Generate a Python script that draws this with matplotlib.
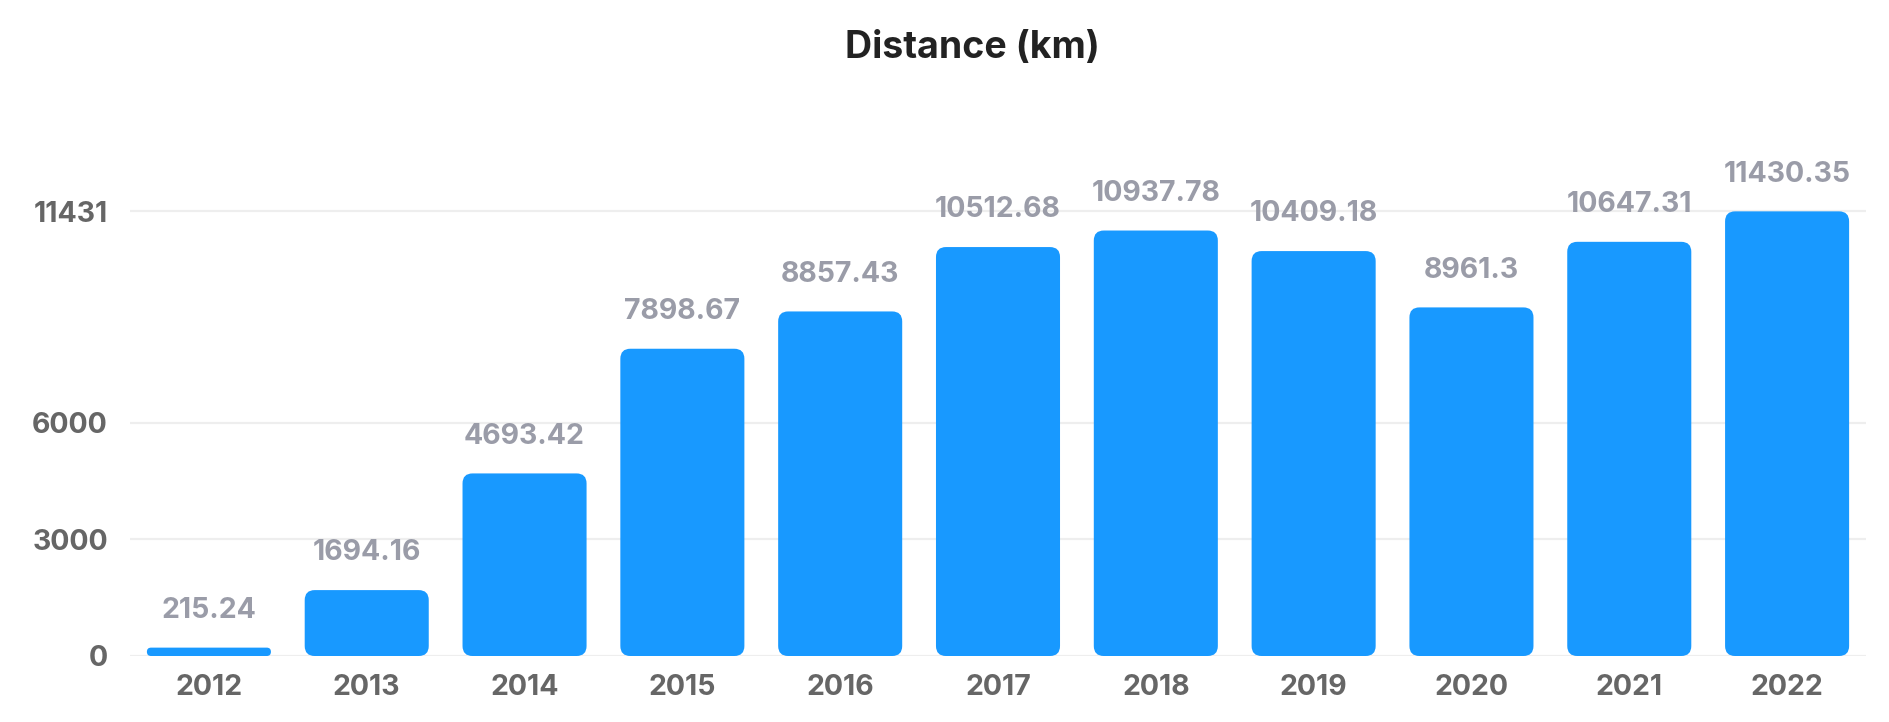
import matplotlib
matplotlib.use("Agg")
import matplotlib.pyplot as plt
from matplotlib.patches import FancyBboxPatch

years = ["2012", "2013", "2014", "2015", "2016", "2017", "2018", "2019", "2020", "2021", "2022"]
distance = [215.24, 1694.16, 4693.42, 7898.67, 8857.43, 10512.68, 10937.78, 10409.18, 8961.3, 10647.31, 11430.35]
value_labels = ["215.24", "1694.16", "4693.42", "7898.67", "8857.43", "10512.68", "10937.78", "10409.18", "8961.3", "10647.31", "11430.35"]
yticks = [0, 3000, 6000, 11431]
title = "Distance (km)"

FONT = ["Inter", "DejaVu Sans"]
plt.rcParams['font.family'] = FONT

W, H, DPI = 1890, 722, 100
fig = plt.figure(figsize=(W / DPI, H / DPI), dpi=DPI)
ax_left, ax_right = 130, 1866
ax_bottom_px = 656
ymax = 12800
px_per_unit = 116.7 / 3000
ax_h = ymax * px_per_unit
ax = fig.add_axes([ax_left / W, (H - ax_bottom_px) / H, (ax_right - ax_left) / W, ax_h / H])

x = list(range(len(years)))
bars = ax.bar(x, distance, width=0.786, color="#1899FF")
ax.set_xlim(-0.5, len(years) - 0.5)
ax.set_ylim(0, ymax)

# rounded bars
xpx = (ax_right - ax_left) / len(years)  # px per x unit
aspect = (1 / px_per_unit) * xpx  # (y units per px) / (x units per px)
r_px = 10
for b in bars:
    bx, by, bw, bh = b.get_x(), b.get_y(), b.get_width(), b.get_height()
    h_px = bh * px_per_unit
    r = min(r_px, h_px / 2, bw * xpx / 2) / xpx
    p = FancyBboxPatch((bx, by), bw, bh, boxstyle=f"round,pad=0,rounding_size={r}",
                       mutation_aspect=aspect, facecolor="#1899FF", edgecolor="none", zorder=3)
    ax.add_patch(p)
    b.set_visible(False)

for xi, v, lab in zip(x, distance, value_labels):
    ax.annotate(lab, (xi, v), xytext=(0, 17), textcoords="offset points",
                ha="center", va="bottom", fontsize=20.5, fontweight="bold", color="#9a9ca8")

ax.set_yticks(yticks)
ax.set_yticklabels([str(t) for t in yticks])
ax.set_xticks(x)
ax.set_xticklabels(years)
for s in ax.spines.values():
    s.set_visible(False)
ax.tick_params(axis="both", length=0, labelsize=20.5, labelcolor="#666666")
ax.tick_params(axis="y", pad=16)
ax.tick_params(axis="x", pad=13)
for t in ax.get_xticklabels() + ax.get_yticklabels():
    t.set_fontweight("bold")
ax.yaxis.grid(True, color="#eeeeee", linewidth=1.6, zorder=0)
ax.set_axisbelow(True)

fig.text(972 / W, 1 - 48 / H, title, ha="center", va="center", fontsize=27, fontweight="bold", color="#222222")

fig.savefig("out.png", dpi=DPI, facecolor="white")
